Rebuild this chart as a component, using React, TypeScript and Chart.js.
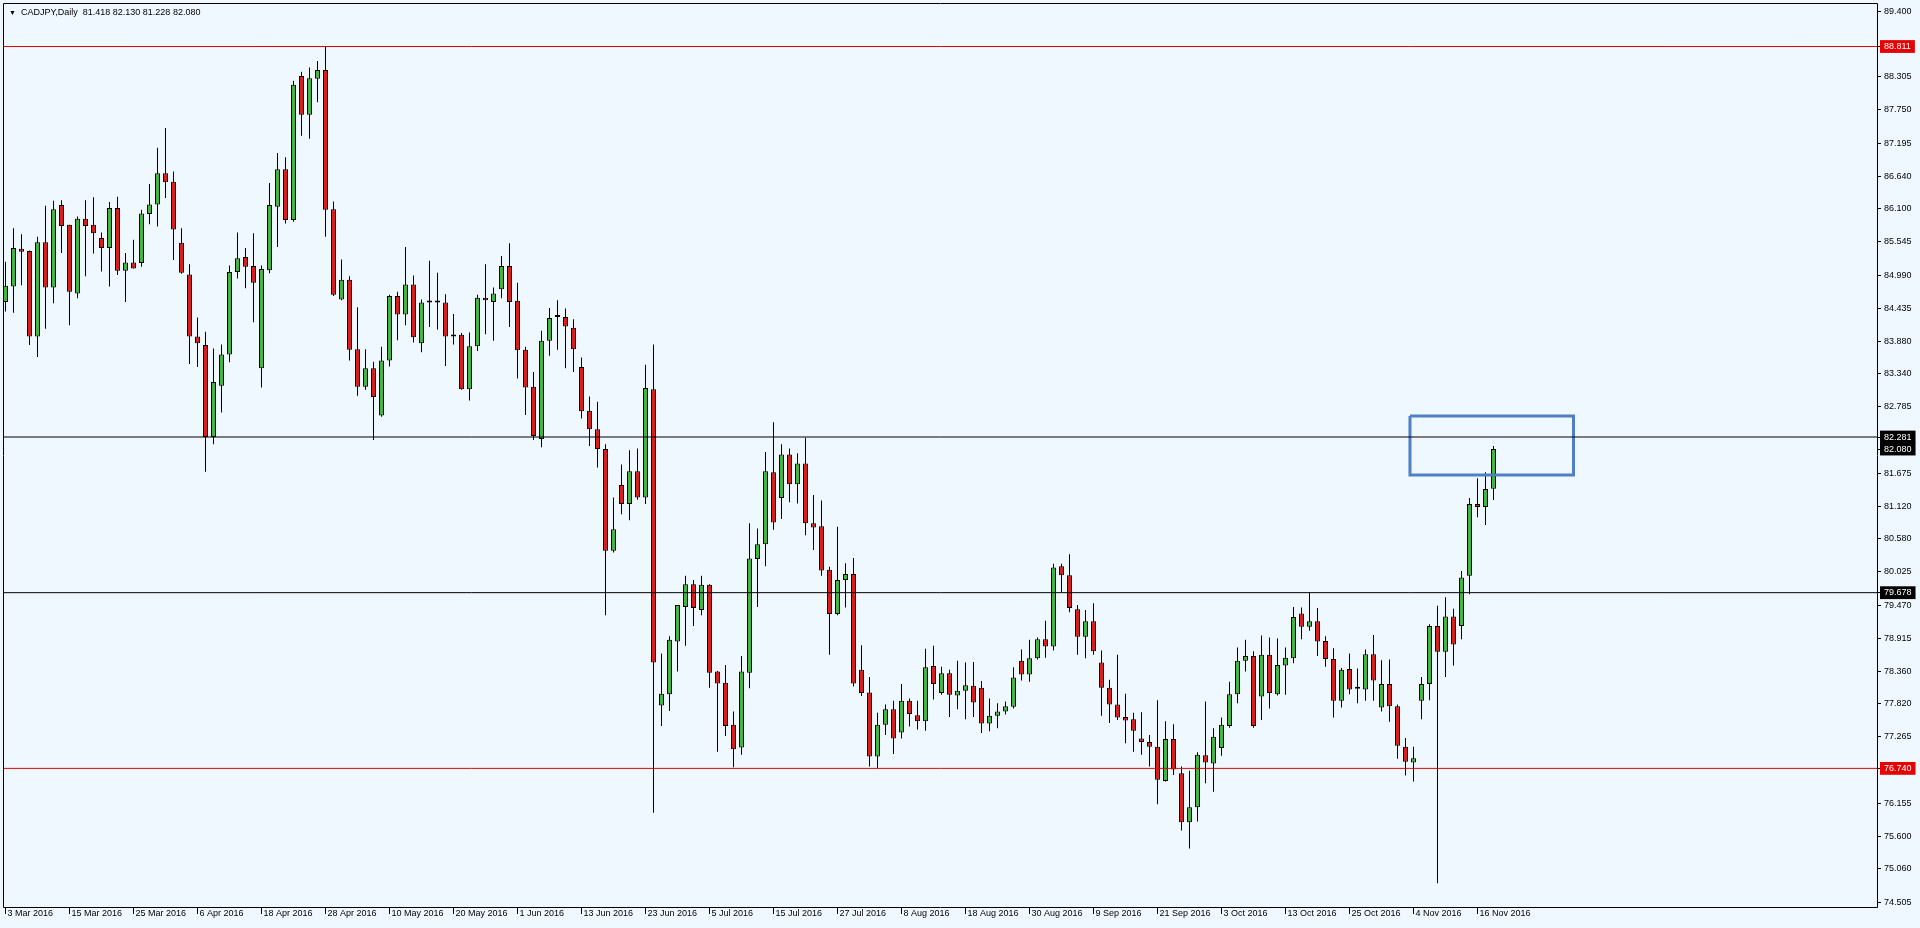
import React, { useEffect, useRef } from 'react';
import { Chart, registerables } from 'chart.js';

Chart.register(...registerables);

// ---- Data (CADJPY daily, index 0 = 3 Mar 2016) ----
const dateLabels = [
  '3 Mar 2016', '15 Mar 2016', '25 Mar 2016', '6 Apr 2016', '18 Apr 2016', '28 Apr 2016',
  '10 May 2016', '20 May 2016', '1 Jun 2016', '13 Jun 2016', '23 Jun 2016', '5 Jul 2016',
  '15 Jul 2016', '27 Jul 2016', '8 Aug 2016', '18 Aug 2016', '30 Aug 2016', '9 Sep 2016',
  '21 Sep 2016', '3 Oct 2016', '13 Oct 2016', '25 Oct 2016', '4 Nov 2016', '16 Nov 2016',
];
const labelStep = 8;

const openV = [
  84.54, 84.80, 85.43, 85.39, 83.96, 85.54, 84.78, 86.16, 85.83, 84.68,
  85.93, 85.83, 85.61, 85.44, 86.11, 85.06, 85.20, 85.19, 86.01, 86.17,
  86.69, 86.55, 85.53, 85.00, 83.96, 83.82, 82.28, 83.14, 83.66, 85.04,
  85.29, 85.14, 83.43, 85.07, 86.13, 86.76, 85.91, 88.32, 87.67, 88.27,
  88.42, 86.09, 84.58, 84.91, 83.75, 83.12, 83.43, 82.64, 83.56, 84.64,
  84.33, 84.83, 83.85, 84.53, 84.53, 84.53, 83.96, 83.99, 83.08, 83.80,
  84.61, 84.54, 84.75, 85.14, 84.56, 83.74, 83.12, 82.25, 83.89, 84.29,
  84.29, 84.11, 83.45, 82.72, 82.41, 82.08, 80.38, 81.48, 81.16, 81.71,
  81.27, 83.08, 77.79, 77.98, 78.86, 79.44, 79.82, 79.39, 79.81, 78.36,
  78.17, 77.47, 77.09, 78.34, 80.24, 80.49, 81.69, 81.26, 81.99, 81.49,
  81.84, 80.84, 80.79, 80.06, 79.32, 79.89, 79.99, 78.39, 78.01, 76.94,
  77.47, 77.73, 77.34, 77.87, 77.63, 77.53, 78.45, 78.00, 78.33, 77.96,
  78.04, 78.12, 78.09, 77.49, 77.62, 77.69, 77.77, 78.54, 78.31, 78.58,
  78.90, 78.78, 80.12, 79.97, 79.40, 78.94, 79.20, 78.51, 78.09, 77.81,
  77.60, 77.56, 77.24, 77.18, 77.10, 76.53, 77.23, 76.66, 75.84, 76.09,
  76.96, 76.82, 77.08, 77.45, 77.98, 78.54, 78.62, 77.94, 78.64, 77.98,
  78.46, 78.58, 79.33, 79.11, 79.20, 78.87, 78.57, 77.87, 78.40, 78.07,
  78.06, 78.65, 77.76, 78.15, 77.78, 77.10, 76.84, 77.87, 78.15, 79.12,
  78.69, 79.28, 79.12, 79.96, 81.16, 81.11, 81.418,
];
const highV = [
  85.21, 85.77, 85.67, 85.40, 85.63, 86.15, 86.23, 86.24, 85.83, 85.97,
  86.24, 86.29, 85.70, 86.21, 86.30, 85.36, 85.58, 86.08, 86.51, 87.12,
  87.45, 86.72, 85.77, 85.17, 84.28, 84.04, 83.76, 83.83, 85.15, 85.70,
  85.44, 85.69, 85.15, 86.53, 87.03, 86.96, 88.24, 88.39, 88.46, 88.57,
  88.81, 86.22, 85.25, 84.97, 84.45, 83.75, 83.54, 83.79, 84.66, 84.71,
  85.46, 84.98, 84.58, 85.23, 85.03, 84.67, 84.34, 84.02, 84.03, 84.66,
  85.17, 84.78, 85.31, 85.52, 84.86, 83.79, 83.37, 84.06, 84.44, 84.57,
  84.43, 84.25, 83.61, 82.96, 82.87, 82.16, 81.27, 81.82, 82.06, 82.09,
  83.49, 83.83, 78.66, 78.95, 79.47, 79.96, 79.89, 79.96, 79.82, 78.37,
  78.47, 77.69, 78.62, 80.84, 80.75, 82.03, 82.53, 82.16, 82.09, 82.01,
  82.27, 81.31, 81.22, 80.11, 80.78, 80.17, 80.26, 78.80, 78.27, 77.67,
  77.81, 77.87, 78.15, 77.91, 77.87, 78.74, 78.79, 78.44, 78.39, 78.54,
  78.51, 78.52, 78.20, 77.91, 77.83, 77.86, 78.43, 78.73, 78.89, 78.93,
  79.21, 80.16, 80.16, 80.32, 79.47, 79.39, 79.50, 78.71, 78.22, 78.64,
  77.99, 77.67, 77.68, 77.30, 77.88, 77.53, 77.48, 76.77, 76.70, 77.01,
  77.86, 77.41, 77.59, 78.19, 78.76, 78.89, 78.70, 78.96, 78.93, 78.91,
  78.76, 79.44, 79.43, 79.68, 79.42, 78.95, 78.75, 78.42, 78.66, 78.41,
  78.73, 78.97, 78.55, 78.56, 77.81, 77.25, 77.10, 78.27, 79.15, 79.46,
  79.60, 79.41, 80.04, 81.26, 81.59, 81.69, 82.130,
];
const lowV = [
  84.38, 84.36, 84.82, 83.82, 83.62, 84.09, 84.52, 85.36, 84.15, 84.60,
  84.97, 85.35, 85.05, 84.80, 84.99, 84.54, 85.10, 85.13, 85.84, 85.80,
  86.28, 85.24, 85.01, 83.50, 83.45, 81.70, 82.16, 82.69, 83.53, 84.93,
  84.77, 84.20, 83.11, 85.02, 85.46, 85.85, 85.88, 87.32, 87.27, 87.88,
  85.63, 84.64, 84.57, 83.56, 82.97, 83.07, 82.23, 82.62, 83.46, 83.90,
  84.15, 83.86, 83.70, 84.12, 84.08, 83.47, 83.83, 83.07, 82.89, 83.72,
  84.00, 83.89, 84.60, 84.12, 83.26, 82.65, 82.23, 82.11, 83.64, 83.74,
  83.43, 83.37, 82.59, 82.13, 81.77, 79.30, 80.35, 80.99, 80.89, 81.23,
  81.16, 76.00, 77.45, 77.70, 78.36, 78.79, 79.12, 79.30, 78.09, 77.02,
  77.28, 76.76, 76.97, 78.08, 79.44, 80.12, 80.73, 80.91, 81.19, 81.17,
  80.64, 80.39, 79.96, 78.64, 79.30, 79.43, 78.11, 77.95, 76.77, 76.74,
  77.30, 76.98, 77.24, 77.44, 77.39, 77.37, 77.89, 77.97, 77.60, 77.73,
  77.56, 77.60, 77.33, 77.36, 77.41, 77.64, 77.74, 78.21, 78.19, 78.56,
  78.59, 78.71, 79.69, 79.35, 78.64, 78.58, 78.64, 77.62, 77.50, 77.55,
  77.16, 77.02, 76.97, 76.77, 76.14, 76.52, 76.63, 75.70, 75.40, 75.85,
  76.49, 76.35, 76.95, 77.42, 77.83, 78.36, 77.42, 77.55, 77.74, 77.96,
  77.97, 78.50, 78.90, 79.04, 78.62, 78.44, 77.59, 77.76, 77.98, 77.83,
  77.87, 77.87, 77.69, 77.52, 76.90, 76.62, 76.52, 77.56, 77.88, 74.82,
  78.27, 78.46, 78.90, 79.65, 80.94, 80.81, 81.228,
];
const closeV = [
  84.81, 85.44, 85.38, 83.96, 85.54, 84.78, 86.09, 85.81, 84.71, 85.93,
  85.81, 85.69, 85.44, 86.11, 85.06, 85.20, 85.10, 86.02, 86.17, 86.69,
  86.54, 85.75, 85.03, 83.96, 83.85, 82.28, 83.20, 83.66, 85.04, 85.27,
  85.13, 84.86, 85.09, 86.16, 86.76, 85.91, 88.17, 87.67, 88.28, 88.42,
  86.08, 84.66, 84.91, 83.74, 83.12, 83.43, 82.95, 83.56, 84.64, 84.33,
  84.83, 83.95, 84.53, 84.53, 84.53, 83.96, 83.96, 83.08, 83.80, 84.61,
  84.57, 84.68, 85.14, 84.54, 83.73, 83.11, 82.30, 83.89, 84.27, 84.29,
  84.13, 83.75, 82.71, 82.41, 82.08, 80.38, 80.74, 81.16, 81.71, 81.27,
  83.10, 78.51, 77.99, 78.89, 79.47, 79.82, 79.42, 79.81, 78.34, 78.16,
  77.45, 77.06, 78.36, 80.25, 80.49, 81.71, 80.85, 81.99, 81.49, 81.84,
  80.84, 80.77, 80.05, 79.32, 79.89, 79.99, 78.16, 78.00, 76.94, 77.47,
  77.73, 77.24, 77.87, 77.65, 77.53, 78.43, 78.15, 78.33, 77.97, 78.04,
  78.13, 77.84, 77.49, 77.62, 77.69, 77.78, 78.26, 78.31, 78.58, 78.90,
  78.78, 80.10, 79.97, 79.42, 78.94, 79.20, 78.70, 78.09, 77.81, 77.59,
  77.54, 77.37, 77.18, 77.10, 76.55, 77.23, 76.72, 75.84, 76.09, 76.97,
  76.84, 77.27, 77.47, 77.98, 78.54, 78.62, 77.45, 78.64, 78.00, 78.47,
  78.59, 79.27, 79.11, 79.20, 78.86, 78.57, 77.87, 78.39, 78.06, 78.07,
  78.65, 78.21, 78.15, 77.78, 77.12, 76.85, 76.91, 78.15, 79.12, 78.69,
  79.28, 78.81, 79.93, 81.16, 81.11, 81.41, 82.080,
];

const priceTicks = [
  89.400, 88.305, 87.750, 87.195, 86.640, 86.100, 85.545, 84.990, 84.435, 83.880,
  83.340, 82.785, 81.675, 81.120, 80.580, 80.025, 79.470, 78.915, 78.360, 77.820,
  77.265, 76.155, 75.600, 75.060, 74.505,
];
const redLevels = [88.811, 76.740];
const blackLevels = [82.281, 79.678];
const bidPrice = [82.080];
const boxX = [175.56, 196.0];
const boxY = [81.646, 82.632];

// ---- styling ----
const X_MIN = -0.1875;
const X_MAX = 233.9375;
const Y_MIN = 74.422;
const Y_MAX = 89.522;
const BG = '#F0F8FF';
const GREEN = '#3fb83f';
const RED = '#dd1c1c';
const FONT = '"Liberation Sans", "DejaVu Sans", Arial, sans-serif';

const markerColor = (v: number): string | null => {
  if (redLevels.some((r) => Math.abs(r - v) < 1e-6)) return '#e60000';
  if (blackLevels.some((r) => Math.abs(r - v) < 1e-6)) return '#000000';
  if (bidPrice.some((r) => Math.abs(r - v) < 1e-6)) return '#000000';
  return null;
};

export default function App() {
  const ref = useRef<HTMLCanvasElement>(null);

  useEffect(() => {
    const canvas = ref.current;
    if (!canvas) return;
    const n = openV.length;
    const wickData = highV.map((h, i) => ({ x: i, y: [lowV[i], h] }));
    const bodyData = openV.map((o, i) => ({ x: i, y: [o, closeV[i]] }));
    const bodyColors = openV.map((o, i) =>
      closeV[i] > o ? GREEN : closeV[i] < o ? RED : '#000000'
    );
    const yTicks = [...priceTicks, ...redLevels, ...blackLevels, ...bidPrice].sort((a, b) => b - a);
    const xTicks = dateLabels.map((_, k) => k * labelStep);

    const levelSets: any[] = [
      ...redLevels.map((lv) => ({ lv, color: '#e60000' })),
      ...blackLevels.map((lv) => ({ lv, color: '#000000' })),
    ].map(({ lv, color }) => ({
      type: 'line',
      data: [{ x: X_MIN - 2, y: lv }, { x: X_MAX + 2, y: lv }],
      borderColor: color,
      borderWidth: 1,
      pointRadius: 0,
      fill: false,
      tension: 0,
      order: 0,
    }));

    const boxSet: any = {
      type: 'line',
      data: [
        { x: boxX[0], y: boxY[1] },
        { x: boxX[1], y: boxY[1] },
        { x: boxX[1], y: boxY[0] },
        { x: boxX[0], y: boxY[0] },
        { x: boxX[0], y: boxY[1] },
      ],
      borderColor: '#4f7fc4',
      borderWidth: 3,
      pointRadius: 0,
      fill: false,
      tension: 0,
      order: 0,
    };

    const bgPlugin = {
      id: 'bgfill',
      beforeDraw(c: any) {
        const ctx = c.ctx;
        ctx.save();
        ctx.fillStyle = BG;
        ctx.fillRect(0, 0, c.width, c.height);
        ctx.restore();
      },
    };
    const framePlugin = {
      id: 'frame',
      afterDraw(c: any) {
        const { left, top, right, bottom } = c.chartArea;
        const ctx = c.ctx;
        ctx.save();
        ctx.strokeStyle = '#000';
        ctx.lineWidth = 1;
        ctx.beginPath();
        ctx.moveTo(left - 0.5, top - 0.5);
        ctx.lineTo(right + 0.5, top - 0.5);
        ctx.lineTo(right + 0.5, bottom + 0.5);
        ctx.lineTo(left - 0.5, bottom + 0.5);
        ctx.closePath();
        ctx.stroke();
        ctx.restore();
      },
    };

    const chart = new Chart(canvas, {
      type: 'bar',
      data: {
        datasets: [
          ...levelSets,
          boxSet,
          {
            type: 'bar',
            data: bodyData as any,
            backgroundColor: bodyColors,
            borderColor: '#000000',
            borderWidth: 1,
            borderSkipped: false,
            barThickness: 5,
            minBarLength: 2,
            grouped: false,
            inflateAmount: 0,
            order: 1,
          },
          {
            type: 'bar',
            data: wickData as any,
            backgroundColor: '#000000',
            borderWidth: 0,
            barThickness: 1,
            grouped: false,
            inflateAmount: 0,
            order: 2,
          },
        ] as any,
      },
      options: {
        responsive: false,
        animation: false,
        devicePixelRatio: 1,
        events: [],
        layout: { padding: { left: 4, top: 4, right: 0, bottom: 0 } },
        plugins: { legend: { display: false }, tooltip: { enabled: false }, title: { display: false } },
        scales: {
          x: {
            type: 'linear',
            position: 'bottom',
            min: X_MIN,
            max: X_MAX,
            offset: false,
            border: { display: false },
            grid: {
              offset: false,
              drawOnChartArea: false,
              drawTicks: true,
              tickLength: 7,
              color: '#000',
            },
            afterBuildTicks: (s: any) => {
              s.ticks = xTicks.map((v) => ({ value: v }));
            },
            afterFit: (s: any) => {
              s.height = 21;
              s.paddingLeft = 0;
              s.paddingRight = 0;
              s.paddingTop = 0;
              s.paddingBottom = 0;
            },
            ticks: {
              autoSkip: false,
              maxRotation: 0,
              minRotation: 0,
              align: 'start',
              labelOffset: 2,
              padding: -6,
              color: '#000',
              font: { family: FONT, size: 9 },
              callback: (v: any) => dateLabels[Math.round(Number(v) / labelStep)] ?? '',
            },
          },
          y: {
            type: 'linear',
            position: 'right',
            min: Y_MIN,
            max: Y_MAX,
            border: { display: false },
            grid: {
              drawOnChartArea: false,
              drawTicks: true,
              tickLength: 4,
              color: '#000',
            },
            afterBuildTicks: (s: any) => {
              s.ticks = yTicks.map((v) => ({ value: v }));
            },
            afterFit: (s: any) => {
              s.width = 43;
              s.paddingLeft = 0;
              s.paddingRight = 0;
              s.paddingTop = 0;
              s.paddingBottom = 0;
            },
            ticks: {
              autoSkip: false,
              padding: 3,
              font: { family: FONT, size: 9 },
              color: (ctx: any) => (markerColor(ctx.tick?.value) ? '#ffffff' : '#000000'),
              showLabelBackdrop: (ctx: any) => !!markerColor(ctx.tick?.value),
              backdropColor: (ctx: any) => markerColor(ctx.tick?.value) || 'rgba(0,0,0,0)',
              backdropPadding: { left: 4, right: 4, top: 1, bottom: 1 },
              callback: (v: any) => Number(v).toFixed(3),
            },
          },
        },
      } as any,
      plugins: [bgPlugin, framePlugin],
    });

    return () => chart.destroy();
  }, []);

  const last = openV.length - 1;
  const header = `CADJPY,Daily  ${openV[last].toFixed(3)} ${highV[last].toFixed(3)} ${lowV[last].toFixed(3)} ${closeV[last].toFixed(3)}`;

  return (
    <div style={{ position: 'fixed', left: 0, top: 0, width: 1920, height: 928, background: BG, overflow: 'hidden' }}>
      <canvas ref={ref} width={1920} height={928} style={{ display: 'block', width: 1920, height: 928 }} />
      <div
        style={{
          position: 'absolute',
          left: 9,
          top: 7,
          font: `9px ${FONT}`,
          color: '#000',
          whiteSpace: 'pre',
          lineHeight: '11px',
        }}
      >
        <span style={{ fontSize: 7 }}>▼</span>{'  ' + header}
      </div>
    </div>
  );
}
